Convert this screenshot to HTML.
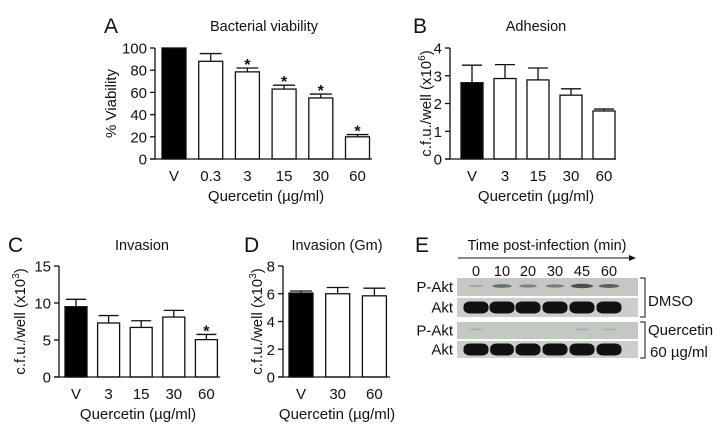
<!DOCTYPE html>
<html><head><meta charset="utf-8"><style>
body{margin:0;background:#fff}
svg{display:block;font-family:"Liberation Sans",Arial,sans-serif}
</style></head><body>
<svg id="fig" width="721" height="432" viewBox="0 0 721 432"></svg>
<script>
// Panel A
const catsA=["V","0.3","3","15","30","60"];
const valsA=[100,88,78.5,63,55,20];
const errA=[0,95,82,66.5,58.5,22];
const starA=[0,0,1,1,1,1];
const ticksA=[0,20,40,60,80,100];
// Panel B
const catsB=["V","3","15","30","60"];
const valsB=[2.75,2.9,2.85,2.3,1.73];
const errB=[3.38,3.4,3.28,2.53,1.8];
const ticksB=[0,1,2,3,4];
// Panel C
const catsC=["V","3","15","30","60"];
const valsC=[9.5,7.3,6.7,8.1,5.05];
const errC=[10.5,8.3,7.6,9.0,5.75];
const starC=[0,0,0,0,1];
const ticksC=[0,5,10,15];
// Panel D
const catsD=["V","30","60"];
const valsD=[6.05,6.0,5.85];
const errD=[6.2,6.45,6.4];
const ticksD=[0,2,4,6,8];
// Panel E blot
const timesE=["0","10","20","30","45","60"];
const pAktDmso=[0.1,0.55,0.4,0.45,0.8,0.65];
const aktDmso=[1,1,1,1,1,1];
const pAktQ=[0.05,0,0,0,0.06,0.04];
const aktQ=[1,0.95,1,1,1,1];

const NS="http://www.w3.org/2000/svg";
const svg=document.getElementById('fig');
function el(tag,attrs,parent){const e=document.createElementNS(NS,tag);for(const k in attrs)e.setAttribute(k,attrs[k]);(parent||svg).appendChild(e);return e;}
function txt(x,y,s,size,anchor,parent,extra){const t=el('text',Object.assign({x:x,y:y,'font-size':size,'text-anchor':anchor||'middle',fill:'#111'},extra||{}),parent);t.textContent=s;return t;}

function panel(o){
  const g=el('g',{});
  
  
  const ymax=o.ticks[o.ticks.length-1];
  const sy=v=>o.y0-(v/ymax)*(o.y0-o.y1);
  const cx=i=>o.x0+o.off+i*o.pitch;
  o.vals.forEach((v,i)=>{
    const top=sy(v);
    if(o.err[i]>v){
      const l=el('line',{x1:cx(i),x2:cx(i),y1:sy(o.err[i]),y2:top,stroke:'#111','stroke-width':1.3},g);
      
      const c=el('line',{x1:cx(i)-o.bw/2+1,x2:cx(i)+o.bw/2-1,y1:sy(o.err[i]),y2:sy(o.err[i]),stroke:'#111','stroke-width':1.3},g);
      
    }
    const r=el('rect',{x:cx(i)-o.bw/2,y:top,width:o.bw,height:o.y0-top,fill:i===0?'#000':'#fff',stroke:'#111','stroke-width':1.3},g);
    
    
    if(o.star&&o.star[i]){
      const s=txt(cx(i),sy(o.err[i])+2,'*',16,'middle',g,{'font-weight':'bold'});
      
    }
    const lb=txt(cx(i),o.y0+22,o.cats[i],15,'middle',g);
    
  });
  const ya=el('line',{x1:o.x0,x2:o.x0,y1:o.y1,y2:o.y0,stroke:'#111','stroke-width':1.3},g);
  
  const xa=el('line',{x1:o.x0-5,x2:o.xend,y1:o.y0,y2:o.y0,stroke:'#111','stroke-width':1.3},g);
  
  o.ticks.forEach(t=>{
    el('line',{x1:o.x0-5,x2:o.x0,y1:sy(t),y2:sy(t),stroke:'#111','stroke-width':1.3},g);
    const tl=txt(o.x0-8,sy(t)+5.5,String(t),15,'end',g);
    
  });
  const tt=txt(o.tx,o.ty,o.title,14.5,'middle',g);
  
  const lt=txt(o.lx,o.ty+2,o.letter,21,'start',g);
  
  const xt=txt(o.xtx,o.y0+42,'Quercetin (\u00b5g/ml)',15,'middle',g);
  
  const yt=el('text',{x:0,y:0,'font-size':15,'text-anchor':'middle',fill:'#111',transform:`translate(${o.ytx},${(o.y0+o.y1)/2}) rotate(-90)`},g);
  
  if(o.sup){yt.innerHTML='c.f.u./well (x10<tspan font-size="10" dy="-6">'+o.sup+'</tspan><tspan dy="6">)</tspan>';}
  else yt.textContent='% Viability';
}
panel({name:'panel-a-viability',cats:catsA,vals:valsA,err:errA,star:starA,ticks:ticksA,x0:155,y0:159,y1:48,off:19,pitch:36.7,bw:24,xend:372,title:'Bacterial viability',tx:264,ty:31,letter:'A',lx:104,xtx:266,ytx:116});
panel({name:'panel-b-adhesion',cats:catsB,vals:valsB,err:errB,ticks:ticksB,x0:450,y0:159,y1:48,off:22,pitch:33,bw:22,xend:616,title:'Adhesion',tx:536,ty:31,letter:'B',lx:413,xtx:536,ytx:431,sup:'6'});
panel({name:'panel-c-invasion',cats:catsC,vals:valsC,err:errC,star:starC,ticks:ticksC,x0:59,y0:377,y1:266,off:17,pitch:32.6,bw:22,xend:220,title:'Invasion',tx:142,ty:250,letter:'C',lx:8,xtx:138,ytx:25,sup:'3'});
panel({name:'panel-d-invasion-gm',cats:catsD,vals:valsD,err:errD,ticks:ticksD,x0:283,y0:377,y1:266,off:18,pitch:36.7,bw:24,xend:390,title:'Invasion (Gm)',tx:337,ty:250,letter:'D',lx:244,xtx:337,ytx:262,sup:'3'});

// Panel E
const ge=el('g',{});


txt(415,252,'E',21,'start',ge);
txt(547,250,'Time post-infection (min)',14.5,'middle',ge);
el('line',{x1:458,x2:632,y1:258,y2:258,stroke:'#111','stroke-width':1},ge);
el('polygon',{points:'636,258 629,255 629,261',fill:'#111'},ge);
const laneX=[476,502,528,555,582,609];
timesE.forEach((t,i)=>{const l=txt(laneX[i],276,t,14.5,'middle',ge);});
const rows=[{y:278,h:18,d:pAktDmso,lab:'P-Akt',p:true},{y:298,h:19,d:aktDmso,lab:'Akt'},{y:322,h:17,d:pAktQ,lab:'P-Akt',p:true},{y:341,h:17,d:aktQ,lab:'Akt'}];
rows.forEach(r=>{
  const b=el('rect',{x:457,y:r.y,width:181,height:r.h,fill:r.p?'#c3c8c3':'#cbcfcb'},ge);
  
  const lt=txt(453,r.y+r.h/2+5,r.lab,15,'end',ge);
  
  r.d.forEach((v,i)=>{
    if(v<=0)return;
    let e;
    if(r.p){
      e=el('ellipse',{cx:laneX[i],cy:r.y+r.h/2-1,rx:7+v*5,ry:1+v*1.5,fill:'#222','fill-opacity':Math.min(1,v*0.8+0.1)},ge);
    }else{
      e=el('rect',{x:laneX[i]-12.5*v,y:r.y+r.h/2-6,width:25*v,height:12,rx:6,ry:5,fill:'#111'},ge);
    }
    
    
  });
});
el('path',{d:'M640,278 H645 V317 H640',fill:'none',stroke:'#111','stroke-width':1},ge);
el('path',{d:'M640,322 H645 V358 H640',fill:'none',stroke:'#111','stroke-width':1},ge);
txt(648,306,'DMSO',15,'start',ge);
txt(648,335,'Quercetin',15,'start',ge);
txt(650,357,'60 \u00b5g/ml',15,'start',ge);
</script>
</body></html>
